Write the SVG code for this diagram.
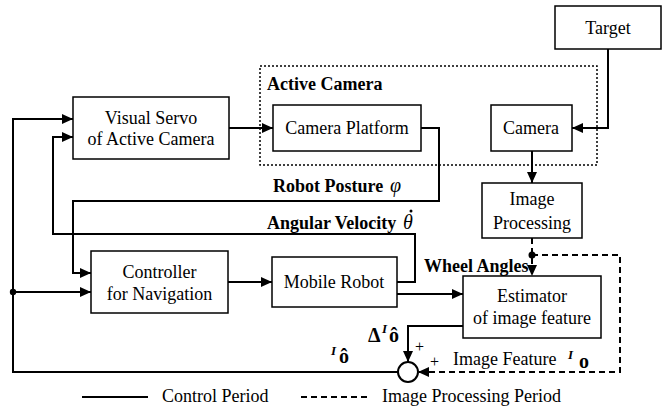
<svg xmlns="http://www.w3.org/2000/svg" width="669" height="410" viewBox="0 0 669 410" style="font-family:'Liberation Serif',serif">
<defs>
<marker id="ah" markerUnits="userSpaceOnUse" markerWidth="11" markerHeight="10" refX="11" refY="5" orient="auto"><path d="M0,0 L11,5 L0,10 z" fill="#000"/></marker>
<style>
svg text{font-family:'Liberation Serif','Times New Roman',serif !important;font-size:18px;fill:#000}
.c{text-anchor:middle}
.b{font-weight:bold}
.box{fill:#fff;stroke:#000;stroke-width:1.5}
.ln{fill:none;stroke:#000;stroke-width:2}
.ar{marker-end:url(#ah)}
.ds{fill:none;stroke:#000;stroke-width:2;stroke-dasharray:6,4}
.dot{fill:none;stroke:#000;stroke-width:1.5;stroke-dasharray:2,2}
</style>
</defs>
<g font-family="Liberation Serif, Times New Roman, serif">
<rect class="dot" x="260" y="66" width="337" height="99"/>
<text class="b" x="267" y="90">Active Camera</text>
<g id="connectors">
<path class="ln ar" d="M608,49 V128 H572"/>
<path class="ln ar" d="M532,151 V183"/>
<path class="ln ar" d="M229,128 H273"/>
<path class="ln ar" d="M421,128 H439 V201 H73 V273 H91"/>
<path class="ln ar" d="M397,282 H415 V234 H53 V137 H73"/>
<path class="ln ar" d="M228,282 H272"/>
<path class="ln ar" d="M397,294 H463"/>
<path class="ln ar" d="M463,326 H408 V362"/>
<path class="ln ar" d="M398,372 H13 V119 H73"/>
<path class="ln ar" d="M13,292 H91"/>
<circle cx="13" cy="292" r="3.2" fill="#000"/>
<path class="ds ar" d="M532,238 V276"/>
<path class="ds ar" d="M532,255 H620 V372 H418"/>
<circle cx="532" cy="255" r="3.5" fill="#000"/>
</g>
<g id="target"><rect class="box" x="555" y="6" width="106" height="43"/><text class="c" x="608" y="34">Target</text></g>
<g id="visual-servo"><rect class="box" x="73" y="97" width="156" height="62"/><text class="c" x="151" y="124">Visual Servo</text><text class="c" x="151" y="145">of Active Camera</text></g>
<g id="camera-platform"><rect class="box" x="273" y="105" width="148" height="46"/><text class="c" x="347" y="134">Camera Platform</text></g>
<g id="camera"><rect class="box" x="491" y="105" width="81" height="46"/><text class="c" x="531" y="134">Camera</text></g>
<g id="image-processing"><rect class="box" x="482" y="183" width="100" height="55"/><text class="c" x="532" y="205">Image</text><text class="c" x="532" y="229">Processing</text></g>
<g id="controller"><rect class="box" x="91" y="251" width="137" height="62"/><text class="c" x="159.5" y="278">Controller</text><text class="c" x="159.5" y="300">for Navigation</text></g>
<g id="mobile-robot"><rect class="box" x="272" y="257" width="125" height="50"/><text class="c" x="334" y="288">Mobile Robot</text></g>
<g id="estimator"><rect class="box" x="463" y="276" width="138" height="62"/><text class="c" x="532" y="302">Estimator</text><text class="c" x="532" y="324">of image feature</text></g>
<g id="sum"><circle cx="408" cy="372" r="10" fill="#fff" stroke="#000" stroke-width="2"/></g>
<g id="labels">
<text class="b" x="273" y="192">Robot Posture</text>
<text x="390" y="192" font-style="italic" style="font-size:20px">φ</text>
<text class="b" x="267" y="229">Angular Velocity</text>
<text x="403" y="229" font-style="italic" style="font-size:20px">θ</text>
<circle cx="411" cy="211" r="1.5" fill="#000"/>
<text class="b" x="424" y="272">Wheel Angles</text>
<text x="368" y="342" font-weight="bold" style="font-size:20px">Δ</text>
<text x="382" y="333" font-weight="bold" font-style="italic" style="font-size:13px">I</text>
<text x="389" y="342" font-weight="bold" style="font-size:20px">ô</text>
<text x="331" y="355" font-weight="bold" font-style="italic" style="font-size:13px">I</text>
<text x="339" y="363" font-weight="bold" style="font-size:20px">ô</text>
<text x="415" y="352" style="font-size:16px">+</text>
<text x="430" y="367" style="font-size:16px">+</text>
<text x="453" y="365">Image Feature</text>
<text x="568" y="359" font-weight="bold" font-style="italic" style="font-size:13px">I</text>
<text x="579" y="368" font-weight="bold" style="font-size:20px">o</text>
</g>
<g id="legend">
<path class="ln" d="M82,397 H148"/>
<text x="162" y="402">Control Period</text>
<path class="ds" d="M301,397 H370"/>
<text x="382" y="402">Image Processing Period</text>
</g>
</g>
</svg>
